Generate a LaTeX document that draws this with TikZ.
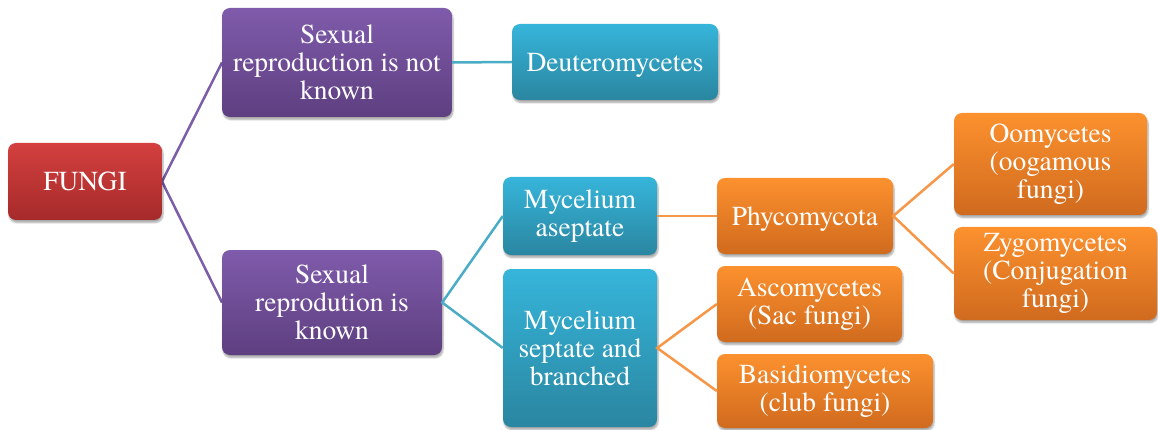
\documentclass[tikz,border=0pt]{standalone}
\usepackage{fontspec}
\newfontfamily\boxfont{texgyretermes-regular.otf}
\usetikzlibrary{shadows.blur}
\definecolor{redT}{HTML}{D3403F}
\definecolor{redB}{HTML}{A62A2A}
\definecolor{purT}{HTML}{7F5BAB}
\definecolor{purB}{HTML}{5E3F80}
\definecolor{tealT}{HTML}{36B5DA}
\definecolor{tealB}{HTML}{2A86A1}
\definecolor{orT}{HTML}{FC912E}
\definecolor{orB}{HTML}{D06A1E}
\definecolor{purL}{HTML}{7B5EA7}
\definecolor{tealL}{HTML}{4BACC6}
\definecolor{orL}{HTML}{F79646}
\tikzset{
  box/.style={rounded corners=8pt, text=white, align=center,
    font=\boxfont\fontsize{27.5}{28}\selectfont, inner sep=0pt,
    blur shadow={shadow blur steps=6, shadow xshift=1pt, shadow yshift=-2.5pt, shadow opacity=35}},
  redbox/.style={box, top color=redT, bottom color=redB},
  purbox/.style={box, top color=purT, bottom color=purB},
  tealbox/.style={box, top color=tealT, bottom color=tealB},
  orbox/.style={box, top color=orT, bottom color=orB},
  wh/.style 2 args={minimum width=#1pt, minimum height=#2pt},
  oneline/.style={text depth=0pt},
  link/.style={line width=2.5pt},
}
\begin{document}
\begin{tikzpicture}[x=1pt, y=-1pt]
\useasboundingbox (0,0) rectangle (1158,430);

% connectors, drawn first so the boxes sit on top
\coordinate (fE) at (162,181.5);
\draw[link, purL] (222,62.5) -- (fE) -- (222,302.5);

% boxes
\node[redbox, wh={154}{77}] (fungi) at (85,181.5) {FUNGI};
\node[purbox, wh={230}{109}] (sexno) at (337,62.5) {Sexual\\reproduction is not\\known};
\node[tealbox, oneline, wh={206}{76}] (deut) at (615,62) {Deuteromycetes};
\node[purbox, wh={220}{105}] (sexyes) at (332,302.5) {Sexual\\reprodution is\\known};
\node[tealbox, wh={154}{78}] (asep) at (580,216) {Mycelium\\aseptate};
\node[tealbox, wh={154}{158}] (sept) at (580,348) {Mycelium\\septate and\\branched};
\node[orbox, oneline, wh={176}{76}] (phyco) at (805,216) {Phycomycota};
\node[orbox, wh={193}{102}] (oomy) at (1050.5,164) {Oomycetes\\(oogamous\\fungi)};
\node[orbox, wh={203}{93}] (zygo) at (1055.5,273.5) {Zygomycetes\\(Conjugation\\fungi)};
\node[orbox, wh={185}{76}] (asco) at (809.5,304) {Ascomycetes\\(Sac fungi)};
\node[orbox, wh={216}{74}] (basid) at (825,391) {Basidiomycetes\\(club fungi)};

\draw[link, tealL] (sexno.east) -- (deut.west);
\draw[link, tealL] (asep.west) -- (sexyes.east) -- (sept.west);
\draw[link, orL] (asep.east) -- (phyco.west);
\draw[link, orL] (oomy.west) -- (phyco.east) -- (zygo.west);
\draw[link, orL] (asco.west) -- (sept.east) -- (basid.west);
\end{tikzpicture}
\end{document}
